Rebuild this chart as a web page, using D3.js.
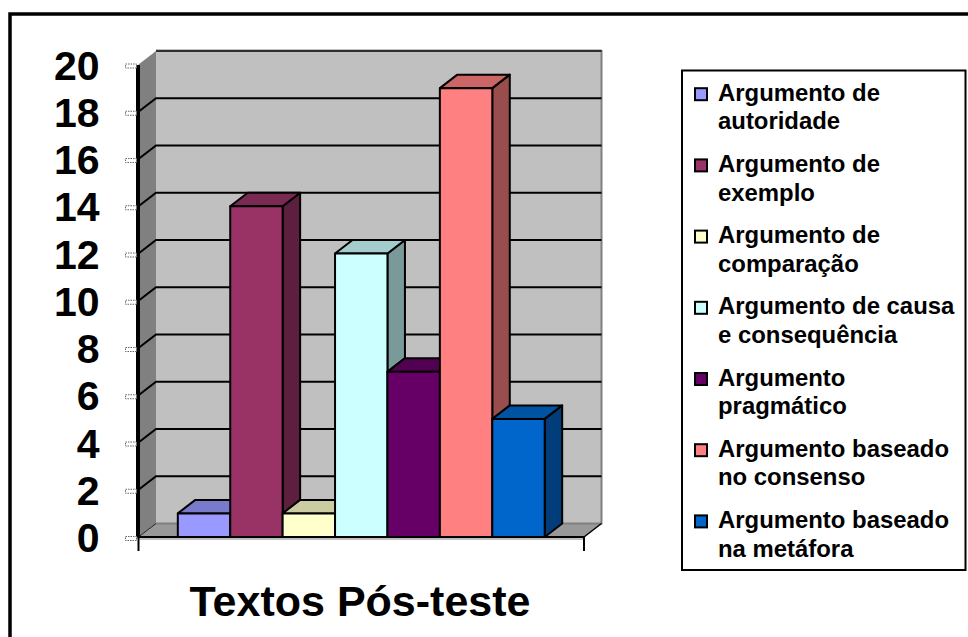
<!DOCTYPE html>
<html>
<head>
<meta charset="utf-8">
<script src="https://cdn.jsdelivr.net/npm/d3@7"></script>
<style>
    html, body { margin: 0; padding: 0; background: #fff; overflow: hidden; }
    svg { display: block; font-family: "Liberation Sans", Arial, sans-serif; font-weight: bold; }
</style>
</head>
<body>
<div id="chart"></div>
<script>
const categories = [
    ["Argumento de", "autoridade"],
    ["Argumento de", "exemplo"],
    ["Argumento de", "comparação"],
    ["Argumento de causa", "e consequência"],
    ["Argumento", "pragmático"],
    ["Argumento baseado", "no consenso"],
    ["Argumento baseado", "na metáfora"]
];
const values = [1, 14, 1, 12, 7, 19, 5];
const colors = ["#9999ff", "#993366", "#ffffcc", "#ccffff", "#660066", "#ff8080", "#0066cc"];
const yTicks = [0, 2, 4, 6, 8, 10, 12, 14, 16, 18, 20];
const chartTitle = "Textos Pós-teste";

const width = 968, height = 637;

const svg = d3.select("#chart").append("svg")
    .attr("width", width)
    .attr("height", height);

// Outer frame, the right and bottom sides run off the picture
svg.append("path")
    .attr("d", `M10,${height}V14H${width}`)
    .attr("fill", "none")
    .attr("stroke", "#000")
    .attr("stroke-width", 3.5);

// Scales for the front plane of the 3D box
const xScale = d3.scaleBand()
    .domain(d3.range(values.length))
    .range([138.5, 584])
    .paddingInner(0)
    .paddingOuter(0.75);

const yScale = d3.scaleLinear()
    .domain([0, 20])
    .range([537, 64.5]);

// Depth offset of the box
const dx = 17.5, dy = -13.5;
const x0 = xScale.range()[0], x1 = xScale.range()[1];
const yBase = yScale(0), yTop = yScale(20);

const poly = pts => pts.map(p => p.join(",")).join(" ");

const g = svg.append("g");

// Back wall
g.append("rect")
    .attr("x", x0 + dx).attr("y", yTop + dy)
    .attr("width", x1 - x0).attr("height", yBase - yTop)
    .attr("fill", "#c0c0c0");

// Left wall
g.append("polygon")
    .attr("points", poly([[x0, yBase], [x0, yTop], [x0 + dx, yTop + dy], [x0 + dx, yBase + dy]]))
    .attr("fill", "#808080");

// Floor
g.append("polygon")
    .attr("points", poly([[x0, yBase], [x0 + dx, yBase + dy], [x1 + dx, yBase + dy], [x1, yBase]]))
    .attr("fill", "#999999");

// Grey edges of the wall
g.append("path")
    .attr("d", `M${x1 + dx},${yTop + dy - 1}V${yBase + dy}H${x0 + dx}`)
    .attr("fill", "none")
    .attr("stroke", "#808080")
    .attr("stroke-width", 2);

g.append("line")
    .attr("x1", x0 + dx).attr("x2", x1 + dx)
    .attr("y1", yTop + dy - 1).attr("y2", yTop + dy - 1)
    .attr("stroke", "#808080")
    .attr("stroke-width", 1);

// Gridlines on the walls
yTicks.filter(d => d > 0 && d < 20).forEach(d => {
    g.append("polyline")
        .attr("points", poly([[x0, yScale(d)], [x0 + dx, yScale(d) + dy], [x1 + dx, yScale(d) + dy]]))
        .attr("fill", "none")
        .attr("stroke", "#000")
        .attr("stroke-width", 2);
});

g.append("line")
    .attr("x1", x0 + dx).attr("x2", x1 + dx)
    .attr("y1", yTop + dy).attr("y2", yTop + dy)
    .attr("stroke", "#000")
    .attr("stroke-width", 1.5);

// Floor diagonals
g.append("line")
    .attr("x1", x0).attr("y1", yBase)
    .attr("x2", x0 + dx).attr("y2", yBase + dy)
    .attr("stroke", "#222")
    .attr("stroke-width", 1);

g.append("line")
    .attr("x1", x1).attr("y1", yBase)
    .attr("x2", x1 + dx).attr("y2", yBase + dy)
    .attr("stroke", "#000")
    .attr("stroke-width", 1.5);

// Bars, painted left to right so each one covers the last one's side
const bars = g.selectAll(".bar")
    .data(values)
    .join("g")
    .attr("class", "bar")
    .attr("stroke", "#000")
    .attr("stroke-width", 2)
    .attr("stroke-linejoin", "round");

bars.append("polygon")
    .attr("points", (d, i) => {
        const r = xScale(i) + xScale.bandwidth();
        return poly([[r, yScale(d)], [r + dx, yScale(d) + dy], [r + dx, yBase + dy], [r, yBase]]);
    })
    .attr("fill", (d, i) => {
        const c = d3.rgb(colors[i]);
        return d3.rgb(c.r * 0.6, c.g * 0.6, c.b * 0.6);
    });

bars.append("polygon")
    .attr("points", (d, i) => {
        const l = xScale(i), r = l + xScale.bandwidth();
        return poly([[l, yScale(d)], [l + dx, yScale(d) + dy], [r + dx, yScale(d) + dy], [r, yScale(d)]]);
    })
    .attr("fill", (d, i) => {
        const c = d3.rgb(colors[i]);
        return d3.rgb(c.r * 0.8, c.g * 0.8, c.b * 0.8);
    });

bars.append("rect")
    .attr("x", (d, i) => xScale(i))
    .attr("y", d => yScale(d))
    .attr("width", xScale.bandwidth())
    .attr("height", d => yBase - yScale(d))
    .attr("fill", (d, i) => colors[i]);

// Floor front edge with its grey lip
g.append("line")
    .attr("x1", x0).attr("x2", x1)
    .attr("y1", yBase + 2).attr("y2", yBase + 2)
    .attr("stroke", "#c0c0c0")
    .attr("stroke-width", 2);

g.append("line")
    .attr("x1", x0 - 1).attr("x2", x1)
    .attr("y1", yBase).attr("y2", yBase)
    .attr("stroke", "#000")
    .attr("stroke-width", 2);

// Axis
const yAxis = d3.axisLeft(yScale)
    .tickValues(yTicks)
    .tickSize(0)
    .tickPadding(38);

const axisG = svg.append("g")
    .attr("transform", `translate(${x0 - 1},0)`)
    .call(yAxis);

axisG.select(".domain")
    .attr("stroke", "#000")
    .attr("stroke-width", 4);

axisG.selectAll("text")
    .attr("font-size", 41)
    .attr("font-family", "Liberation Sans")
    .attr("font-weight", "bold")
    .attr("y", 1.5)
    .attr("fill", "#000");

// Little dotted tick marks beside the axis
axisG.selectAll(".tick").append("rect")
    .attr("x", -12).attr("y", -1)
    .attr("width", 11).attr("height", 4)
    .attr("fill", "#fff")
    .attr("stroke", "#666")
    .attr("stroke-width", 1)
    .attr("stroke-dasharray", "1.5 1");

// Stubs under the floor
[x0, x1].forEach(x => {
    svg.append("line")
        .attr("x1", x).attr("x2", x)
        .attr("y1", yBase).attr("y2", yBase + 14)
        .attr("stroke", "#000")
        .attr("stroke-width", 2);
});

// Title
svg.append("text")
    .attr("x", 360).attr("y", 616)
    .attr("text-anchor", "middle")
    .attr("font-size", 43)
    .text(chartTitle);

// Legend
const legend = svg.append("g");

legend.append("rect")
    .attr("x", 682).attr("y", 70.5)
    .attr("width", 283.5).attr("height", 499.5)
    .attr("fill", "#fff")
    .attr("stroke", "#000")
    .attr("stroke-width", 2);

categories.forEach((lines, i) => {
    const baseline = 100.7 + i * 71.2;
    legend.append("rect")
        .attr("x", 695).attr("y", baseline - 12.5)
        .attr("width", 12).attr("height", 12)
        .attr("fill", colors[i])
        .attr("stroke", "#000")
        .attr("stroke-width", 2);
    lines.forEach((line, j) => {
        legend.append("text")
            .attr("x", 718)
            .attr("y", baseline + j * 28.7)
            .attr("font-size", 23.9)
            .text(line);
    });
});
</script>
</body>
</html>
